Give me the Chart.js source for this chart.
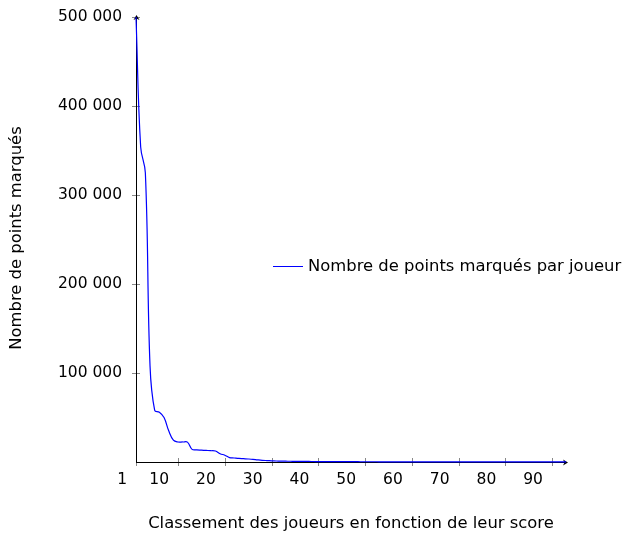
<!DOCTYPE html>
<html>
<head>
<meta charset="utf-8">
<script src="https://cdn.jsdelivr.net/npm/chart.js@4.4.0/dist/chart.umd.min.js"></script>
<style>
    html, body { margin: 0; padding: 0; background: #fff; }
</style>
</head>
<body>
<canvas id="scoreChart" width="629" height="540"></canvas>
<script>
// points marqués par joueur, rang 1 à 93
const points = [
    500000, 354000, 325000, 108000, 58000, 56000, 50000, 35000, 24500, 22500,
    22500, 22300, 14200, 13600, 13300, 13000, 12700, 12300, 9300, 7600,
    5000, 4500, 4000, 3700, 3400, 3000, 2400, 1900, 1600, 1350,
    1150, 1000, 900, 820, 750, 690, 640, 590, 550, 510,
    480, 450, 420, 400, 380, 360, 340, 320, 305, 290,
    275, 260, 250, 240, 230, 220, 210, 200, 190, 182,
    175, 168, 160, 152, 145, 140, 134, 128, 122, 117,
    112, 107, 102, 98, 94, 90, 86, 82, 78, 75,
    72, 69, 66, 63, 60, 57, 54, 51, 48, 45,
    42, 40, 38
];
const xTicks = [1, 10, 20, 30, 40, 50, 60, 70, 80, 90];
const yTicks = [100000, 200000, 300000, 400000, 500000];

const seriesLabel = 'Nombre de points marqués par joueur';
const xTitle = 'Classement des joueurs en fonction de leur score';
const yTitle = 'Nombre de points marqués';

const FAMILY = '"DejaVu Sans"';

function fmt(v) {
    return String(v).replace(/\B(?=(\d{3})+(?!\d))/g, ' ');
}

function arrow(ctx, x, y, dir) {
    // petite pointe de flèche façon pgfplots
    ctx.save();
    ctx.translate(x, y);
    ctx.rotate(dir);
    ctx.beginPath();
    ctx.moveTo(0, 0);
    ctx.lineTo(-5, -3);
    ctx.lineTo(-3.5, 0);
    ctx.lineTo(-5, 3);
    ctx.closePath();
    ctx.fill();
    ctx.restore();
}

const axesPlugin = {
    id: 'axes',
    beforeDatasetsDraw(chart) {
        const ctx = chart.ctx;
        const xs = chart.scales.x, ys = chart.scales.y;
        const x0 = xs.getPixelForValue(xs.min), x1 = xs.getPixelForValue(xs.max);
        const y0 = ys.getPixelForValue(0), y1 = ys.getPixelForValue(ys.max);

        ctx.save();
        // ticks gris
        ctx.strokeStyle = '#888';
        ctx.lineWidth = 1;
        xTicks.forEach(v => {
            const px = Math.round(xs.getPixelForValue(v)) + 0.5;
            ctx.beginPath();
            ctx.moveTo(px, y0 - 4);
            ctx.lineTo(px, y0 + 4);
            ctx.stroke();
        });
        yTicks.forEach(v => {
            const py = Math.round(ys.getPixelForValue(v)) + 0.5;
            ctx.beginPath();
            ctx.moveTo(x0 - 4, py);
            ctx.lineTo(x0 + 4, py);
            ctx.stroke();
        });

        // axes
        ctx.strokeStyle = '#000';
        ctx.fillStyle = '#000';
        ctx.beginPath();
        ctx.moveTo(Math.round(x0) + 0.5, y0 + 1);
        ctx.lineTo(Math.round(x0) + 0.5, y1 - 1);
        ctx.moveTo(x0, Math.round(y0) + 0.5);
        ctx.lineTo(x1 + 1, Math.round(y0) + 0.5);
        ctx.stroke();
        arrow(ctx, Math.round(x0) + 0.5, y1 - 2, -Math.PI / 2);
        arrow(ctx, x1 + 2, Math.round(y0) + 0.5, 0);
        ctx.restore();
    },
    afterDraw(chart) {
        const ctx = chart.ctx;
        const xs = chart.scales.x, ys = chart.scales.y;
        const x0 = xs.getPixelForValue(xs.min), x1 = xs.getPixelForValue(xs.max);
        const y0 = ys.getPixelForValue(0);

        ctx.save();
        ctx.fillStyle = '#000';
        ctx.font = '15.5px ' + FAMILY;

        // étiquettes x (décalées à gauche des ticks comme dans l'original)
        ctx.textAlign = 'right';
        ctx.textBaseline = 'middle';
        xTicks.forEach(v => {
            ctx.fillText(String(v), xs.getPixelForValue(v) - 9, y0 + 18);
        });

        // étiquettes y
        yTicks.forEach(v => {
            ctx.fillText(fmt(v), x0 - 14, ys.getPixelForValue(v));
        });

        // titres
        ctx.textAlign = 'center';
        ctx.font = '16.4px ' + FAMILY;
        ctx.fillText(xTitle, (x0 + x1) / 2, 524);
        ctx.save();
        ctx.translate(17, 238);
        ctx.rotate(-Math.PI / 2);
        ctx.fillText(yTitle, 0, 0);
        ctx.restore();

        // légende
        ctx.strokeStyle = '#0000ff';
        ctx.lineWidth = 1;
        ctx.beginPath();
        ctx.moveTo(273, 266.5);
        ctx.lineTo(303, 266.5);
        ctx.stroke();
        ctx.textAlign = 'left';
        ctx.fillText(seriesLabel, 308, 267);
        ctx.restore();
    }
};

const ctx = document.getElementById('scoreChart').getContext('2d');
new Chart(ctx, {
    type: 'line',
    data: {
        datasets: [{
            label: seriesLabel,
            data: points.map((v, i) => ({ x: i + 1, y: v })),
            borderColor: '#0000ff',
            borderWidth: 1.2,
            pointRadius: 0,
            tension: 0.4,
            fill: false,
            clip: false
        }]
    },
    options: {
        responsive: false,
        animation: false,
        layout: {
            padding: { left: 136, right: 63, top: 17, bottom: 78 }
        },
        plugins: {
            legend: { display: false },
            tooltip: { enabled: false }
        },
        scales: {
            x: { type: 'linear', min: 1, max: 93, display: false },
            y: { min: 0, max: 500000, display: false }
        }
    },
    plugins: [axesPlugin]
});
</script>
</body>
</html>
